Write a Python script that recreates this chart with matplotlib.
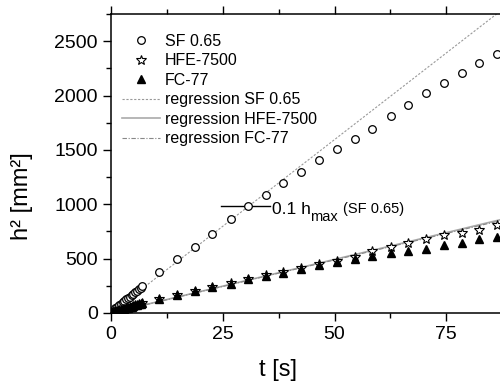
import matplotlib
matplotlib.use("Agg")
import matplotlib.pyplot as plt
from matplotlib.ticker import MultipleLocator, FuncFormatter

plt.rcParams['font.family'] = ['Liberation Sans', 'DejaVu Sans']

# early dense measurements (0 - 7 s)
t_early = [0.2, 0.6, 1.0, 1.4, 1.8, 2.2, 2.6, 3.0, 3.4, 3.8, 4.2, 4.6, 5.0, 5.4, 5.8, 6.2, 6.6]
# sparse measurements every ~4 s
t_late = [6.9, 10.8, 14.8, 18.8, 22.7, 26.8, 30.7, 34.6, 38.5, 42.6, 46.6, 50.6,
          54.6, 58.5, 62.6, 66.5, 70.5, 74.5, 78.5, 82.4, 86.4]

sf_early = [12, 28, 42, 56, 70, 83, 97, 110, 124, 137, 150, 163, 177, 190, 203, 217, 232]
sf_late = [250, 378, 494, 607, 730, 861, 980, 1090, 1193, 1300, 1407, 1508,
           1605, 1691, 1813, 1914, 2021, 2115, 2210, 2301, 2387]

hfe_early = [4, 9, 14, 19, 24, 29, 34, 39, 44, 49, 54, 59, 64, 69, 74, 80, 86]
hfe_late = [92, 130, 168, 205, 240, 272, 312, 345, 377, 410, 448, 480,
            515, 568, 607, 647, 684, 714, 739, 766, 806]

fc_early = [4, 9, 14, 19, 24, 29, 34, 39, 44, 49, 54, 59, 64, 69, 74, 80, 86]
fc_late = [92, 128, 165, 201, 235, 266, 309, 339, 369, 400, 440, 470,
           495, 525, 547, 571, 592, 629, 644, 678, 700]

# regression lines, read at t = 0 and t = 100
reg_t = [0, 100]
reg_sf = [0, 3190]
reg_hfe = [0, 985]
reg_fc = [0, 975]

# 0.1 h_max marker
hmax_t = [24.5, 35.5]
hmax_y = [980, 980]


def main():
    fig = plt.figure(figsize=(5.0, 3.83), dpi=100)
    ax = fig.add_axes([0.222, 0.183, 0.894, 0.780])

    ax.plot(reg_t, reg_sf, color='#999999', ls=(0, (2, 1.5)), lw=0.8,
            label='regression SF 0.65', zorder=1)
    ax.plot(reg_t, reg_hfe, color='#aaaaaa', ls='-', lw=1.2,
            label='regression HFE-7500', zorder=1)
    ax.plot(reg_t, reg_fc, color='#888888', ls=(0, (4, 1.5, 1, 1.5)), lw=0.8,
            label='regression FC-77', zorder=1)

    ax.plot(t_early + t_late, sf_early + sf_late, 'o', mfc='white', mec='black',
            mew=0.9, ms=5.5, label='SF 0.65', zorder=3)
    ax.plot(t_early + t_late, hfe_early + hfe_late, '*', mfc='white', mec='black',
            mew=0.8, ms=7.5, label='HFE-7500', zorder=3)
    ax.plot(t_early + t_late, fc_early + fc_late, '^', mfc='black', mec='black',
            ms=6, label='FC-77', zorder=4)

    ax.plot(hmax_t, hmax_y, color='black', lw=1.0, zorder=2)
    ax.text(36.0, 950, '0.1 h', fontsize=12.5, va='center', ha='left')
    ax.text(44.6, 880, 'max', fontsize=10.5, va='center', ha='left')
    ax.text(52.0, 960, '(SF 0.65)', fontsize=10.5, va='center', ha='left')

    ax.set_xlim(0, 100)
    ax.set_ylim(0, 2750)
    ax.xaxis.set_major_locator(MultipleLocator(25))
    ax.xaxis.set_minor_locator(MultipleLocator(12.5))
    ax.xaxis.set_major_formatter(FuncFormatter(lambda v, p: '' if v > 90 else '%d' % v))
    ax.yaxis.set_major_locator(MultipleLocator(500))
    ax.yaxis.set_minor_locator(MultipleLocator(250))
    ax.tick_params(which='both', direction='out', top=True, right=True,
                   width=1.0, labelsize=14)
    ax.tick_params(which='major', length=6)
    ax.tick_params(which='minor', length=3.5)
    for s in ax.spines.values():
        s.set_linewidth(1.1)

    ax.set_xlabel('t [s]', fontsize=17)
    ax.xaxis.set_label_coords(0.374, -0.155)
    ax.set_ylabel('h² [mm²]', fontsize=17)
    ax.yaxis.set_label_coords(-0.175, 0.39)

    h, l = ax.get_legend_handles_labels()
    order = [3, 4, 5, 0, 1, 2]
    ax.legend([h[i] for i in order], [l[i] for i in order], loc='upper left',
              frameon=False, fontsize=11.5, labelspacing=0.28, handlelength=2.4,
              handletextpad=0.3, borderaxespad=0.0, bbox_to_anchor=(0.01, 0.955))

    fig.savefig('out.png', dpi=100)
    plt.close(fig)


if __name__ == "__main__":
    main()
